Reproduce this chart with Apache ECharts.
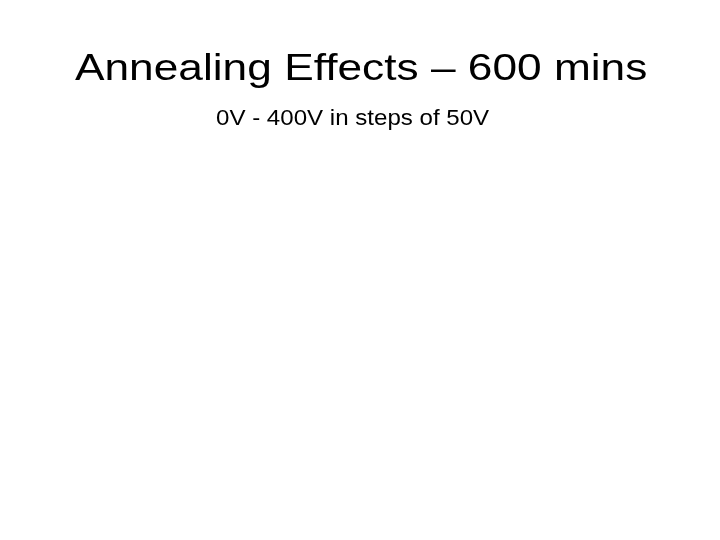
<!DOCTYPE html>
<html>
<head>
<meta charset="utf-8">
<script src="https://cdn.jsdelivr.net/npm/echarts@6/dist/echarts.min.js"></script>
<style>
html,body{margin:0;padding:0;background:#fff;}
#chart{width:720px;height:540px;}
</style>
</head>
<body>
<div id="chart"></div>
<script>
const titleText = 'Annealing Effects – 600 mins';
const subtitleText = '0V - 400V in steps of 50V';
const categories = [];
const seriesValues = [];

const chart = echarts.init(document.getElementById('chart'), null, {renderer: 'canvas'});
chart.setOption({
  backgroundColor: '#ffffff',
  animation: false,
  graphic: [
    {
      type: 'text',
      x: 75,
      y: 89,
      scaleX: 1.18,
      style: {
        text: titleText,
        x: 0, y: 0,
        fill: '#000',
        font: 'normal 37.5px "Liberation Sans", Arial, sans-serif',
        textAlign: 'left',
        textVerticalAlign: 'bottom'
      }
    },
    {
      type: 'text',
      x: 216,
      y: 130,
      scaleX: 1.095,
      style: {
        text: subtitleText,
        x: 0, y: 0,
        fill: '#000',
        font: 'normal 22px "Liberation Sans", Arial, sans-serif',
        textAlign: 'left',
        textVerticalAlign: 'bottom'
      }
    }
  ],
  series: []
});
</script>
</body>
</html>
